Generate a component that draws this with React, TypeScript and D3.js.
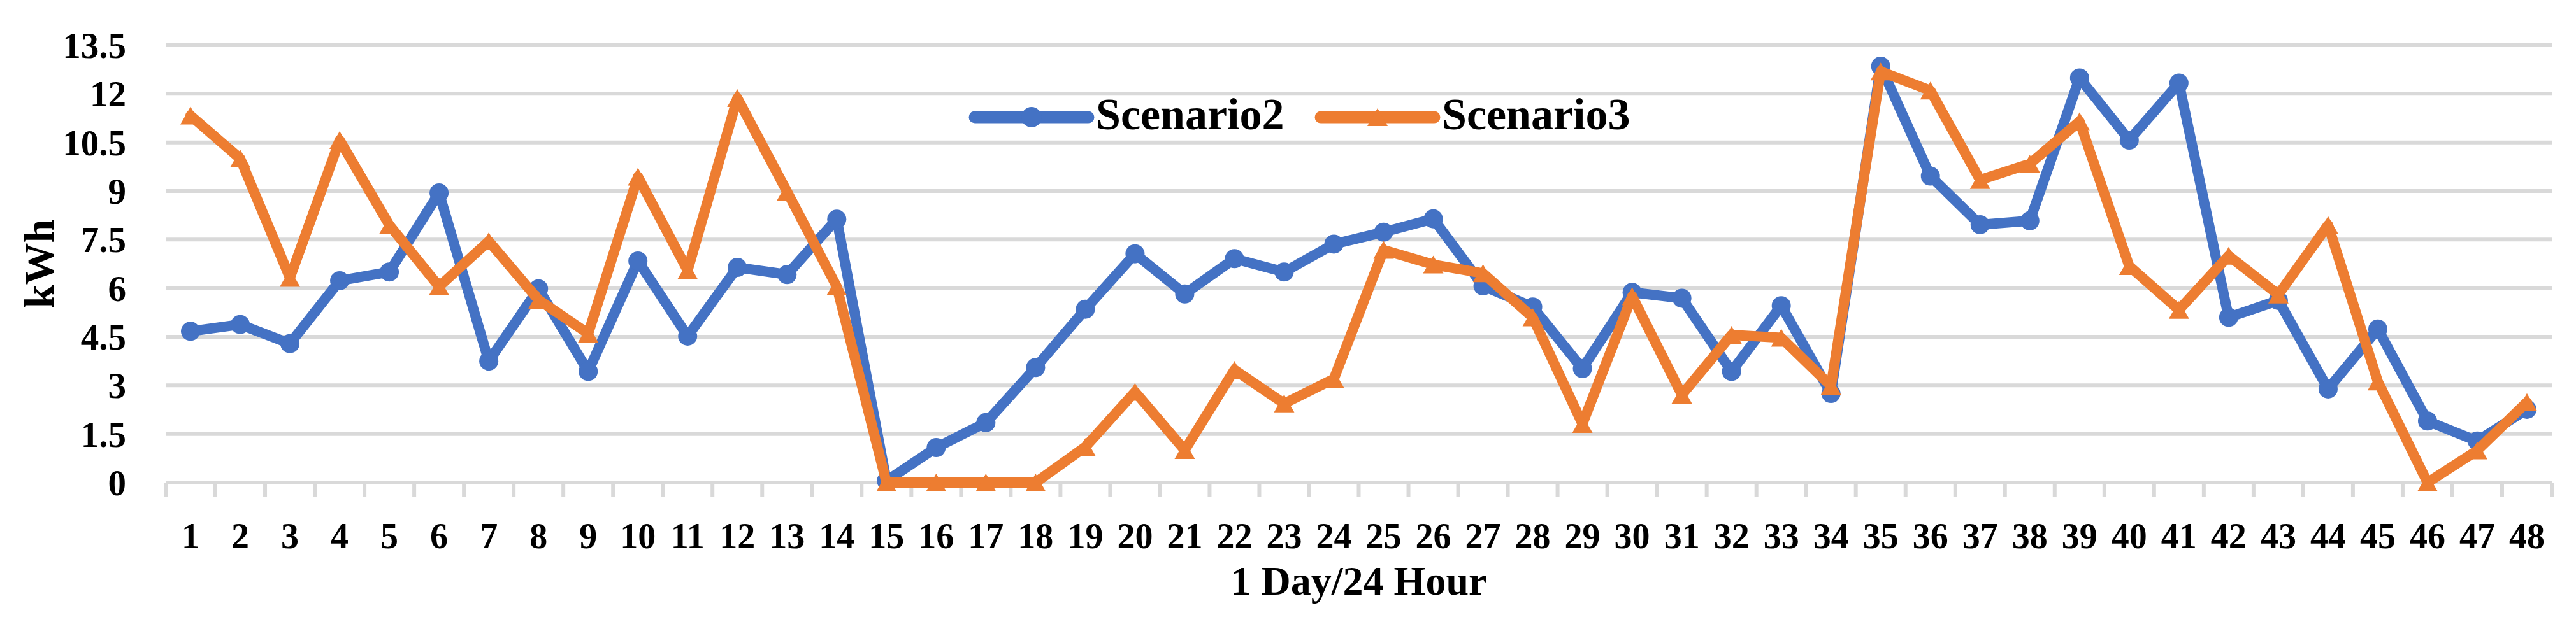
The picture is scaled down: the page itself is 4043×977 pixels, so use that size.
import React, { useEffect, useRef } from 'react';
import * as d3 from 'd3';

// half-hour slots, 1..48
const hours: number[] = d3.range(1, 49);
const yTicks: number[] = [0, 1.5, 3, 4.5, 6, 7.5, 9, 10.5, 12, 13.5];

const seriesNames: string[] = ['Scenario2', 'Scenario3'];

const scenario2: number[] = [
    4.67, 4.88, 4.29, 6.23, 6.50, 8.94, 3.75, 5.98, 3.43, 6.84,
    4.52, 6.64, 6.42, 8.13, 0.05, 1.08, 1.85, 3.55, 5.35, 7.06,
    5.82, 6.91, 6.50, 7.36, 7.73, 8.14, 6.07, 5.42, 3.52, 5.87,
    5.69, 3.43, 5.46, 2.75, 12.85, 9.46, 7.96, 8.08, 12.49, 10.57,
    12.33, 5.10, 5.62, 2.89, 4.74, 1.90, 1.28, 2.26,
];

const scenario3: number[] = [
    11.33, 10.0, 6.32, 10.57, 7.95, 6.05, 7.45, 5.64, 4.6, 9.44,
    6.55, 11.87, 8.98, 6.05, 0, 0, 0, 0, 1.1, 2.8,
    1.0, 3.48, 2.44, 3.2, 7.18, 6.73, 6.46, 5.10, 1.81, 5.75,
    2.71, 4.56, 4.47, 2.98, 12.69, 12.10, 9.34, 9.84, 11.15, 6.68,
    5.33, 7.0, 5.8, 7.95, 3.12, 0, 0.99, 2.48,
];

const BLUE = '#4472C4';
const ORANGE = '#ED7D31';
const GRID = '#D9D9D9';
const FONT = "'Palatino Linotype', 'Book Antiqua', Palatino, 'Liberation Serif', serif";

const W = 4043;
const H = 977;

export default function App() {
    const ref = useRef<SVGSVGElement>(null);

    useEffect(() => {
        const svg = d3.select(ref.current);
        svg.selectAll('*').remove();

        const left = 260, right = 4005, top = 71, bottom = 758;

        const x = d3.scaleBand<number>().domain(hours).range([left, right]);
        const y = d3.scaleLinear().domain([0, 13.5]).range([bottom, top]);
        const cx = (h: number) => (x(h) as number) + x.bandwidth() / 2;

        // gridlines (the 0 line doubles as the axis)
        svg.append('g')
            .selectAll('line')
            .data(yTicks)
            .enter()
            .append('line')
            .attr('x1', left)
            .attr('x2', right)
            .attr('y1', d => y(d))
            .attr('y2', d => y(d))
            .attr('stroke', GRID)
            .attr('stroke-width', 6);

        // category tick marks under the axis
        const edges = hours.map(h => x(h) as number).concat([right]);
        svg.append('g')
            .selectAll('line')
            .data(edges)
            .enter()
            .append('line')
            .attr('x1', d => d)
            .attr('x2', d => d)
            .attr('y1', bottom)
            .attr('y2', bottom + 22)
            .attr('stroke', GRID)
            .attr('stroke-width', 6);

        // y tick labels
        svg.append('g')
            .selectAll('text')
            .data(yTicks)
            .enter()
            .append('text')
            .attr('x', 198)
            .attr('y', d => y(d))
            .attr('dy', '0.35em')
            .attr('text-anchor', 'end')
            .attr('font-family', FONT)
            .attr('font-weight', 'bold')
            .attr('font-size', 57)
            .text(d => String(d));

        // x tick labels
        svg.append('g')
            .selectAll('text')
            .data(hours)
            .enter()
            .append('text')
            .attr('x', d => cx(d))
            .attr('y', 861)
            .attr('text-anchor', 'middle')
            .attr('font-family', FONT)
            .attr('font-weight', 'bold')
            .attr('font-size', 56)
            .text(d => String(d));

        // axis titles
        svg.append('text')
            .attr('x', (left + right) / 2)
            .attr('y', 934)
            .attr('text-anchor', 'middle')
            .attr('font-family', FONT)
            .attr('font-weight', 'bold')
            .attr('font-size', 64)
            .text('1 Day/24 Hour');

        svg.append('text')
            .attr('transform', `translate(84, ${(top + bottom) / 2}) rotate(-90)`)
            .attr('text-anchor', 'middle')
            .attr('font-family', FONT)
            .attr('font-weight', 'bold')
            .attr('font-size', 66)
            .text('kWh');

        const line = d3.line<number>()
            .x((_, i) => cx(hours[i]))
            .y(d => y(d));

        const triangle = 'M0,-14L16,14L-16,14Z';

        const drawSeries = (values: number[], color: string, marker: 'circle' | 'triangle') => {
            const g = svg.append('g');
            g.append('path')
                .datum(values)
                .attr('d', line)
                .attr('fill', 'none')
                .attr('stroke', color)
                .attr('stroke-width', 16)
                .attr('stroke-linejoin', 'round')
                .attr('stroke-linecap', 'round');
            if (marker === 'circle') {
                g.selectAll('circle')
                    .data(values)
                    .enter()
                    .append('circle')
                    .attr('cx', (_, i) => cx(hours[i]))
                    .attr('cy', d => y(d))
                    .attr('r', 15)
                    .attr('fill', color);
            } else {
                g.selectAll('path.mk')
                    .data(values)
                    .enter()
                    .append('path')
                    .attr('class', 'mk')
                    .attr('d', triangle)
                    .attr('transform', (d, i) => `translate(${cx(hours[i])}, ${y(d)})`)
                    .attr('fill', color);
            }
        };

        drawSeries(scenario2, BLUE, 'circle');
        drawSeries(scenario3, ORANGE, 'triangle');

        // legend
        const legend = [
            { name: seriesNames[0], color: BLUE, marker: 'circle', x0: 1530 },
            { name: seriesNames[1], color: ORANGE, marker: 'triangle', x0: 2073 },
        ];
        const ly = 184;
        legend.forEach(item => {
            const g = svg.append('g');
            g.append('line')
                .attr('x1', item.x0)
                .attr('x2', item.x0 + 178)
                .attr('y1', ly)
                .attr('y2', ly)
                .attr('stroke', item.color)
                .attr('stroke-width', 19)
                .attr('stroke-linecap', 'round');
            if (item.marker === 'circle') {
                g.append('circle')
                    .attr('cx', item.x0 + 89)
                    .attr('cy', ly)
                    .attr('r', 16)
                    .attr('fill', item.color);
            } else {
                g.append('path')
                    .attr('d', triangle)
                    .attr('transform', `translate(${item.x0 + 89}, ${ly})`)
                    .attr('fill', item.color);
            }
            g.append('text')
                .attr('x', item.x0 + 190)
                .attr('y', 203)
                .attr('font-family', FONT)
                .attr('font-weight', 'bold')
                .attr('font-size', 70)
                .text(item.name);
        });
    }, []);

    return (
        <svg
            ref={ref}
            width={W}
            height={H}
            style={{ position: 'absolute', left: 0, top: 0, background: '#fff' }}
        />
    );
}
